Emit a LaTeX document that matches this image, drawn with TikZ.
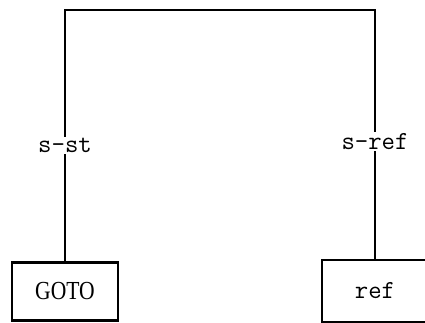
\documentclass[tikz,border=0pt]{standalone}
\usepackage{fontspec}
\usepackage{tikz}

\newfontfamily\gotofont[FakeStretch=0.83]{Liberation Serif}

\tikzset{
    stmtbox/.style={draw, line width=2.6pt, inner sep=0pt,
        minimum width=106pt, minimum height=58pt},
    edgelabel/.style={fill=white, inner sep=1.5pt, font=\fontsize{26}{30}\selectfont\ttfamily}
}

\begin{document}
\begin{tikzpicture}[x=1pt, y=1pt, line width=2pt]
    \useasboundingbox (0,0) rectangle (425,322);
    \node[stmtbox, font=\fontsize{26}{30}\selectfont\gotofont] (goto) at (65,30.5) {GOTO};
    \node[stmtbox, minimum height=62pt, font=\fontsize{26}{30}\selectfont\ttfamily]
        (ref) at (375,31) {ref};
    \coordinate (top) at (220,312);
    \draw (goto.north) |- node[edgelabel, pos=0.23] {s-st} (top)
        -| node[edgelabel, pos=0.765] {s-ref} (ref.north);
\end{tikzpicture}
\end{document}
